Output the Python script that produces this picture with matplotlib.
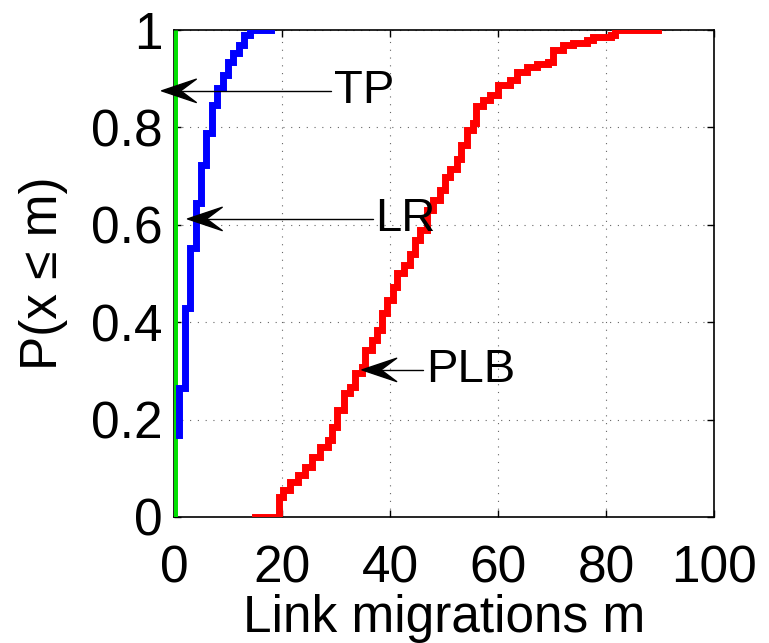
import matplotlib
matplotlib.use("Agg")
import numpy as np
import matplotlib.pyplot as plt
from matplotlib.patches import ArrowStyle
from matplotlib.path import Path

plt.rcParams['font.family'] = ['Liberation Sans', 'DejaVu Sans']

# TP: all mass at zero
tp_x = [0, 0]
tp_y = [0, 1]

# LR (blue) empirical CDF steps
lr_x = [1, 1, 2, 3, 4, 5, 6, 7, 8, 9, 10, 11, 12, 13, 14, 18]
lr_y = [0.168, 0.265, 0.43, 0.552, 0.645, 0.723, 0.788, 0.846, 0.88,
        0.907, 0.934, 0.953, 0.969, 0.99, 1.0, 1.0]

# PLB (red) empirical CDF steps
plb_x = [15, 19.5, 20.2, 21.5, 23, 24.2, 25.5, 27, 28.6, 29.2, 30.1, 31.4,
         32.6, 33.5, 34.8, 35.4, 36.6, 37.5, 38.5, 39.4, 40.6, 41.2, 42.5,
         43.7, 44.6, 45.6, 46.8, 48, 49.3, 50.2, 51.1, 52.4, 53.2, 54.2,
         55.4, 56, 57.3, 58.5, 60, 62.2, 63.5, 65.3, 67.2, 69.3, 70.2, 72.1,
         73.9, 76.4, 77.6, 81, 81.7, 89.7]
plb_y = [0, 0.04, 0.055, 0.072, 0.086, 0.103, 0.124, 0.144, 0.158, 0.185,
         0.22, 0.254, 0.267, 0.295, 0.308, 0.343, 0.363, 0.384, 0.418, 0.445,
         0.472, 0.5, 0.517, 0.541, 0.568, 0.589, 0.63, 0.65, 0.671, 0.699,
         0.715, 0.735, 0.764, 0.795, 0.809, 0.843, 0.856, 0.866, 0.887, 0.897,
         0.914, 0.924, 0.931, 0.934, 0.959, 0.969, 0.973, 0.979, 0.986, 0.99,
         1.0, 1.0]

x_ticks = [0, 20, 40, 60, 80, 100]
y_ticks = [0, 0.2, 0.4, 0.6, 0.8, 1]
y_ticklabels = ['0', '0.2', '0.4', '0.6', '0.8', '1']


class ConcaveArrow(ArrowStyle._Base):
    """MATLAB-like arrow with a swept-back (concave) head."""

    def __init__(self, head_length=1.7, head_width=0.6, notch=0.5):
        self.head_length = head_length
        self.head_width = head_width
        self.notch = notch
        super().__init__()

    def transmute(self, path, mutation_size, linewidth):
        v = path.vertices
        p0 = np.asarray(v[0], float)
        p1 = np.asarray(v[-1], float)
        d = p1 - p0
        n = np.hypot(*d)
        u = d / n if n else np.array([1.0, 0.0])
        perp = np.array([-u[1], u[0]])
        L = self.head_length * mutation_size
        W = self.head_width * mutation_size
        back = p1 - L * u
        inner = p1 - L * self.notch * u
        head = Path([p1, back + W * perp, inner, back - W * perp, p1],
                    [Path.MOVETO, Path.LINETO, Path.LINETO, Path.LINETO,
                     Path.CLOSEPOLY])
        line = Path([p0, inner])
        return [line, head], [False, True]


fig = plt.figure(figsize=(7.69, 6.43), dpi=100)
ax = fig.add_axes([0.2263, 0.196, 0.7022, 0.7574])

ax.plot(tp_x, tp_y, color='#00e000', lw=5, solid_capstyle='butt', zorder=3)
ax.plot(lr_x, lr_y, color='#0000ff', lw=5, drawstyle='steps-post',
        solid_joinstyle='miter', zorder=3)
ax.plot(plb_x, plb_y, color='#ff0000', lw=5, drawstyle='steps-post',
        solid_joinstyle='miter', zorder=3)

ax.set_xlim(0, 100)
ax.set_ylim(0, 1)
ax.set_xticks(x_ticks)
ax.set_xticklabels([str(t) for t in x_ticks])
ax.set_yticks(y_ticks)
ax.set_yticklabels(y_ticklabels)

ax.grid(True, linestyle=(0, (1, 6)), color='#666666', linewidth=0.8)
ax.tick_params(direction='in', length=5, width=1, top=True, right=True,
               labelsize=37)
ax.tick_params(axis='x', pad=20)
ax.tick_params(axis='y', pad=8)
for s in ax.spines.values():
    s.set_linewidth(1.2)

ax.set_xlabel('Link migrations m', fontsize=37, labelpad=0)
ax.set_ylabel('P(x ≤ m)', fontsize=37, labelpad=17)

arrow = dict(arrowstyle=ConcaveArrow(head_length=1.25, head_width=0.42,
                                     notch=0.55),
             mutation_scale=20, color='black', lw=1.0, shrinkA=0, shrinkB=0)

ax.annotate('TP', xy=(-2.3, 0.875), xytext=(29.6, 0.875), ha='left',
            va='center', fontsize=34, arrowprops=arrow, annotation_clip=False)
ax.annotate('LR', xy=(2.5, 0.612), xytext=(37.3, 0.612), ha='left',
            va='center', fontsize=34, arrowprops=arrow)
ax.annotate('PLB', xy=(34.8, 0.302), xytext=(46.6, 0.302), ha='left',
            va='center', fontsize=34, arrowprops=arrow)

fig.savefig('out.png', dpi=100)
